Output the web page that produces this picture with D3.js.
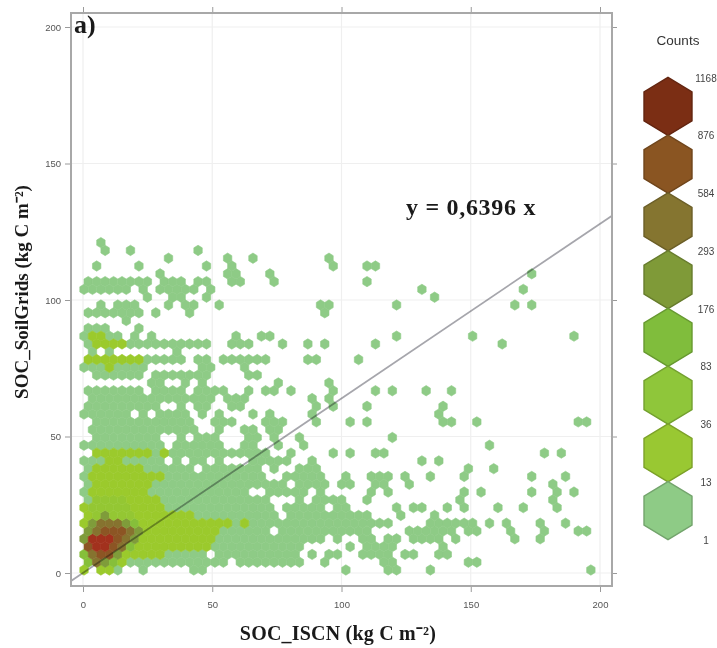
<!doctype html>
<html lang="en">

<head>
    <meta charset="UTF-8">
    <title>SOC hexbin</title>
    <style>
    html, body { margin: 0; background: #fff; }
    svg { display: block; filter: blur(0.45px); }
    text { font-family: "Liberation Sans", Arial, sans-serif; }
    .serif { font-family: "Liberation Serif", "Times New Roman", serif; font-weight: bold; fill: #1a1a1a; }
    .axis-container path { display: none; }
    .axis-container line { stroke: #9a9a9a; }
    .axis-container text { fill: #555; font-size: 9.5px; font-family: "Liberation Sans", Arial, sans-serif; }
    </style>
</head>

<body>
    <svg width="717" height="648"></svg>
    <script src="https://cdn.jsdelivr.net/npm/d3@7"></script>
    <script type="text/javascript">
    var tickValues = [0, 50, 100, 150, 200];
    var legendLabels = [1168, 876, 584, 293, 176, 83, 36, 13, 1];
    // hexagon fill per count class, lowest class first
    var classColors = ['#8ecb86', '#9bca2c', '#94c733', '#86bf3a', '#7f9c3a', '#86732f', '#8c5524', '#a2311d'];
    var legendColors = ['#8ecb86', '#99c832', '#8fc63a', '#80bd3c', '#7f9a38', '#857530', '#8a5522', '#7b2e14'];
    var slope = 0.6396;

    // hexagonal bin grid
    var binOriginX = 0.39, binOriginY = 1.1, binWidth = 3.268, binHeight = 2.855;

    // occupied bins per row, bottom row first: [first column, last column]
    var greenRows = [
        [[4, 4], [7, 7], [13, 14], [31, 31], [36, 37], [41, 41], [60, 60]],
        [[5, 16], [18, 25], [28, 28], [35, 36], [45, 46]],
        [[10, 14], [16, 25], [27, 27], [29, 30], [33, 36], [38, 39], [42, 43]],
        [[15, 25], [31, 31], [33, 36], [42, 42]],
        [[16, 28], [30, 30], [33, 34], [36, 37], [39, 42], [44, 44], [51, 51], [54, 54]],
        [[16, 21], [23, 33], [38, 43], [45, 46], [50, 50], [54, 54], [58, 59]],
        [[18, 18], [20, 36], [41, 46], [48, 48], [50, 50], [54, 54], [57, 57]],
        [[13, 22], [24, 33], [37, 37], [41, 41]],
        [[10, 22], [24, 28], [30, 31], [37, 37], [39, 40], [43, 43], [45, 45], [49, 49], [52, 52], [56, 56]],
        [[0, 0], [9, 21], [25, 25], [27, 30], [33, 33], [44, 44], [55, 55]],
        [[0, 0], [8, 19], [22, 26], [28, 28], [34, 34], [36, 36], [45, 45], [47, 47], [53, 53], [56, 56], [58, 58]],
        [[0, 0], [8, 23], [25, 28], [30, 31], [34, 35], [38, 38], [55, 55]],
        [[0, 0], [10, 21], [24, 28], [31, 31], [34, 36], [38, 38], [41, 41], [45, 45], [53, 53], [57, 57]],
        [[0, 0], [7, 12], [14, 20], [22, 22], [25, 27], [45, 45], [48, 48]],
        [[0, 2], [5, 9], [11, 11], [13, 14], [16, 16], [20, 24], [27, 27], [40, 40], [42, 42]],
        [[8, 8], [10, 21], [24, 24], [29, 29], [31, 31], [34, 35], [54, 54], [56, 56]],
        [[0, 9], [11, 16], [19, 20], [23, 23], [26, 26], [48, 48]],
        [[1, 8], [11, 11], [13, 15], [19, 20], [22, 22], [25, 25], [36, 36]],
        [[1, 13], [16, 16], [19, 20], [22, 23]],
        [[1, 12], [15, 17], [21, 23], [27, 27], [31, 31], [33, 33], [42, 43], [46, 46], [58, 59]],
        [[0, 5], [7, 7], [9, 12], [14, 14], [16, 16], [20, 20], [22, 22], [27, 27], [42, 42]],
        [[0, 8], [11, 11], [13, 14], [17, 18], [27, 27], [29, 29], [33, 33], [42, 42]],
        [[1, 15], [17, 19], [27, 27], [29, 29]],
        [[0, 6], [8, 11], [13, 16], [19, 19], [21, 22], [24, 24], [29, 29], [34, 34], [36, 36], [40, 40], [43, 43]],
        [[8, 9], [12, 12], [14, 14], [23, 23], [29, 29]],
        [[1, 6], [8, 14], [19, 20]],
        [[0, 2], [4, 7], [14, 15], [19, 19]],
        [[7, 11], [13, 14], [16, 21], [26, 27], [32, 32]],
        [[1, 1], [3, 3], [11, 11]],
        [[0, 0], [5, 14], [17, 19], [23, 23], [26, 26], [28, 28], [34, 34], [49, 49]],
        [[0, 0], [3, 4], [6, 6], [8, 8], [18, 18], [21, 22], [37, 37], [46, 46], [58, 58]],
        [[0, 2], [6, 6]],
        [[5, 5]],
        [[0, 6], [8, 8], [12, 12], [28, 28]],
        [[2, 2], [4, 6], [10, 10], [12, 13], [16, 16], [28, 29], [37, 37], [51, 51], [53, 53]],
        [[7, 7], [10, 11], [14, 14], [41, 41]],
        [[0, 5], [7, 7], [9, 13], [15, 15], [40, 40], [52, 52]],
        [[0, 7], [9, 11], [13, 14], [17, 18], [22, 22], [33, 33]],
        [[9, 9], [17, 18], [22, 22], [53, 53]],
        [[1, 1], [6, 6], [14, 14], [17, 17], [29, 29], [33, 34]],
        [[10, 10], [17, 17], [20, 20], [29, 29]],
        [[2, 2], [5, 5], [13, 13]],
        [[2, 2]]
    ];
    // second class, same layout: [row, first column, last column]
    var limeRuns = [
        [0, 0, 0], [0, 2, 3], [1, 0, 4], [2, 0, 9], [3, 0, 14], [4, 0, 15], [5, 0, 15], [6, 0, 17], [6, 19, 19],
        [7, 0, 12], [8, 0, 9], [9, 1, 8], [10, 1, 7], [11, 1, 7], [12, 1, 9], [13, 1, 6], [14, 3, 4],
        [15, 1, 7], [15, 9, 9], [26, 3, 3], [27, 0, 6], [29, 1, 4], [30, 1, 2]
    ];
    // hot centre: [row, first column, last column, count class]
    var hotRuns = [
        [9, 1, 4, 2], [8, 1, 5, 2], [7, 1, 5, 2], [7, 2, 2, 4],
        [6, 1, 1, 4], [6, 2, 4, 5], [6, 5, 5, 4], [6, 6, 6, 3],
        [5, 0, 0, 4], [5, 1, 1, 5], [5, 2, 4, 6], [5, 5, 5, 5], [5, 6, 6, 4],
        [4, 0, 0, 4], [4, 1, 3, 7], [4, 4, 4, 6], [4, 5, 5, 5], [4, 6, 6, 4],
        [3, 0, 0, 6], [3, 1, 2, 7], [3, 3, 3, 6], [3, 4, 4, 5], [3, 5, 5, 3],
        [2, 0, 0, 3], [2, 1, 1, 5], [2, 2, 3, 6], [2, 4, 4, 4],
        [1, 0, 0, 3], [1, 1, 1, 5], [1, 2, 2, 4], [1, 3, 3, 3]
    ];

    var svg = d3.select('svg');

    var x = d3.scaleLinear().domain([0, 200]).range([83, 600]);
    var y = d3.scaleLinear().domain([0, 200]).range([573, 27]);
    var boxLeft = 71, boxRight = 612, boxTop = 13, boxBottom = 586;

    // 把分箱展开成 row,col -> class
    var bins = new Map();
    function setBin(r, c, cls) {
        bins.set(r + ',' + c, { row: r, col: c, cls: cls });
    }
    greenRows.forEach(function(runs, r) {
        runs.forEach(function(run) {
            d3.range(run[0], run[1] + 1).forEach(function(c) { setBin(r, c, 0); });
        });
    });
    limeRuns.forEach(function(run) {
        d3.range(run[1], run[2] + 1).forEach(function(c) { setBin(run[0], c, 1); });
    });
    hotRuns.forEach(function(run) {
        d3.range(run[1], run[2] + 1).forEach(function(c) { setBin(run[0], c, run[3]); });
    });
    var binList = Array.from(bins.values());

    // grid
    var grid = svg.append('g').attr('stroke', '#efefef').attr('stroke-width', 1.2);
    grid.selectAll('.v').data(tickValues).enter().append('line')
        .attr('x1', function(d) { return x(d); })
        .attr('x2', function(d) { return x(d); })
        .attr('y1', boxTop).attr('y2', boxBottom);
    grid.selectAll('.h').data(tickValues).enter().append('line')
        .attr('y1', function(d) { return y(d); })
        .attr('y2', function(d) { return y(d); })
        .attr('x1', boxLeft).attr('x2', boxRight);

    // hexagons
    var halfW = (x(binWidth) - x(0)) / 2;
    var thirdH = (y(0) - y(binHeight)) / 3;
    function hexPath(cx, cy, w, h) {
        return 'M' + cx + ',' + (cy - 2 * h) + 'L' + (cx + w) + ',' + (cy - h) + 'L' + (cx + w) + ',' + (cy + h) +
            'L' + cx + ',' + (cy + 2 * h) + 'L' + (cx - w) + ',' + (cy + h) + 'L' + (cx - w) + ',' + (cy - h) + 'Z';
    }
    svg.append('g').selectAll('path')
        .data(binList)
        .enter()
        .append('path')
        .attr('d', function(d) {
            var vx = binOriginX + (d.col + (d.row % 2 ? 0.5 : 0)) * binWidth;
            var vy = binOriginY + d.row * binHeight;
            return hexPath(x(vx), y(vy), halfW, thirdH);
        })
        .attr('fill', function(d) { return classColors[d.cls]; })
        .attr('stroke', function(d) { return classColors[d.cls]; })
        .attr('stroke-width', 0.6);

    // fit line
    var lineEnds = [x.invert(boxLeft), x.invert(boxRight)];
    svg.append('line')
        .attr('x1', x(lineEnds[0])).attr('y1', y(lineEnds[0] * slope))
        .attr('x2', x(lineEnds[1])).attr('y2', y(lineEnds[1] * slope))
        .attr('stroke', '#a6a6ac')
        .attr('stroke-width', 1.8)
        .style('mix-blend-mode', 'multiply');

    // axes on all four sides
    svg.append('g').classed('axis-container', true)
        .attr('transform', 'translate(0,' + boxBottom + ')')
        .call(d3.axisBottom(x).tickValues(tickValues).tickSize(6).tickPadding(9));
    svg.append('g').classed('axis-container', true)
        .attr('transform', 'translate(' + boxLeft + ',0)')
        .call(d3.axisLeft(y).tickValues(tickValues).tickSize(6).tickPadding(4));
    svg.append('g').classed('axis-container', true)
        .attr('transform', 'translate(0,' + boxTop + ')')
        .call(d3.axisTop(x).tickValues(tickValues).tickSize(6).tickFormat(''));
    svg.append('g').classed('axis-container', true)
        .attr('transform', 'translate(' + boxRight + ',0)')
        .call(d3.axisRight(y).tickValues(tickValues).tickSize(5).tickFormat(''));

    svg.append('rect')
        .attr('x', boxLeft).attr('y', boxTop)
        .attr('width', boxRight - boxLeft).attr('height', boxBottom - boxTop)
        .attr('fill', 'none')
        .attr('stroke', '#a8a8a8')
        .attr('stroke-width', 2);

    // texts
    svg.append('text').classed('serif', true)
        .text('a)').attr('x', 74).attr('y', 33).style('font-size', '26px');
    svg.append('text').classed('serif', true)
        .text('y = 0,6396 x').attr('x', 406).attr('y', 215)
        .style('font-size', '24px').style('letter-spacing', '0.7px');
    svg.append('text').classed('serif', true)
        .attr('x', 338).attr('y', 640)
        .attr('text-anchor', 'middle')
        .style('font-size', '20px')
        .style('letter-spacing', '0.2px')
        .text('SOC_ISCN (kg C m⁻²)');
    svg.append('text').classed('serif', true)
        .attr('transform', 'translate(28,292) rotate(-90)')
        .attr('text-anchor', 'middle')
        .style('font-size', '19px')
        .text('SOC_SoilGrids (kg C m⁻²)');

    // legend
    var legendY = d3.scalePoint()
        .domain(legendLabels)
        .range([78, 540]);
    var legend = svg.append('g');
    legend.append('text')
        .text('Counts')
        .attr('x', 678).attr('y', 45)
        .attr('text-anchor', 'middle')
        .style('font-size', '13.5px')
        .style('fill', '#333');
    var legendHex = legendColors.slice().reverse();
    legend.selectAll('path')
        .data(legendLabels.slice(0, -1))
        .enter()
        .append('path')
        .attr('d', function(d, i) {
            var cy = (legendY(d) + legendY(legendLabels[i + 1])) / 2 - 0.5;
            return hexPath(668, cy, 24, 14.5);
        })
        .attr('fill', function(d, i) { return legendHex[i]; })
        .attr('stroke', function(d, i) { return d3.color(legendHex[i]).darker(0.6); })
        .attr('stroke-width', 1.4);
    legend.selectAll('.lab')
        .data(legendLabels)
        .enter()
        .append('text')
        .text(function(d) { return d; })
        .attr('x', 706)
        .attr('y', function(d) { return legendY(d) + 3.5; })
        .attr('text-anchor', 'middle')
        .style('font-size', '10px')
        .style('fill', '#444');
    </script>
</body>

</html>
